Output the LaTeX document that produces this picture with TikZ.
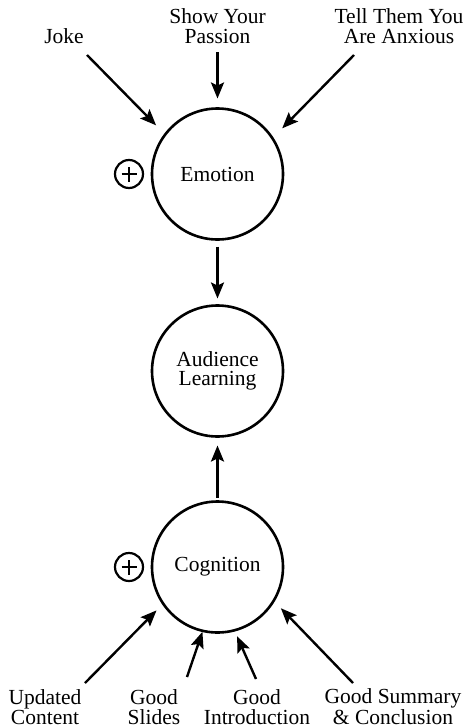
\documentclass[tikz,border=0pt]{standalone}
\usepackage{fontspec}
\setmainfont{Liberation Serif}
\usetikzlibrary{arrows.meta}
\newcommand\labelfont{\fontsize{21.5}{19.5}\selectfont}
\begin{document}
\begin{tikzpicture}[x=1pt,y=-1pt,
  factor/.style={draw,circle,line width=2.6pt,minimum size=131pt,inner sep=0pt,
    outer sep=0pt,align=center,font=\labelfont},
  lbl/.style={align=center,inner sep=0pt,font=\labelfont,anchor=base},
  conn/.style={line width=2.4pt,-{Stealth[length=16pt,width=13pt,inset=3pt]}},
  plusmark/.style={draw,circle,line width=2.2pt,minimum size=28pt,inner sep=0pt,
    outer sep=0pt,path picture={
      \draw[line width=2.2pt] ([xshift=-7.5pt]path picture bounding box.center)
        -- ([xshift=7.5pt]path picture bounding box.center);
      \draw[line width=2.2pt] ([yshift=-7.5pt]path picture bounding box.center)
        -- ([yshift=7.5pt]path picture bounding box.center);}}
]
\useasboundingbox (0,0) rectangle (470,728);

% the three factors
\node[factor] (emotion)  at (217.5,174) {Emotion};
\node[factor] (audience) at (217.5,371) {Audience\\Learning};
\node[factor] (cognition) at (217.5,567) {Cognition};

% positive signs
\node[plusmark] (eplus) at (129,174) {};
\node[plusmark] (cplus) at (129,567) {};

% emotional drivers (base = baseline of the last line)
\node[lbl] (joke)    at (64,43)    {Joke};
\node[lbl] (passion) at (217.5,43) {Show Your\\Passion};
\node[lbl] (anxious) at (399,43)   {Tell Them You\\Are Anxious};

% cognitive drivers
\node[lbl] (updated) at (45,724)  {Updated\\Content};
\node[lbl] (slides)  at (154,724) {Good\\Slides};
\node[lbl] (intro)   at (257,724) {Good\\Introduction};
\node[lbl] (summary) at (393,724) {Good Summary\\\& Conclusion};

% arrow tails
\coordinate (tjoke)    at (87,55);
\coordinate (tpassion) at (217.5,52);
\coordinate (tanxious) at (354,55);
\coordinate (tupdated) at (85,683);
\coordinate (tslides)  at (187,677);
\coordinate (tintro)   at (256,679);
\coordinate (tsummary) at (353,683);

\draw[conn,shorten >=13pt] (tjoke) -- (emotion.143);
\draw[conn,shorten >=10pt] (tpassion) -- (emotion.north);
\draw[conn,shorten >=14pt] (tanxious) -- (emotion.33.4);

\draw[conn,shorten <=7pt,shorten >=7pt] (emotion.south) -- (audience.north);
\draw[conn,shorten <=4pt,shorten >=9pt] (cognition.north) -- (audience.south);

\draw[conn,shorten >=9.5pt] (tupdated) -- (cognition.214.7);
\draw[conn,shorten >=1pt]   (tslides)  -- (cognition.257.4);
\draw[conn,shorten >=6.5pt] (tintro)   -- (cognition.285.9);
\draw[conn,shorten >=10.4pt] (tsummary) -- (cognition.329.2);
\end{tikzpicture}
\end{document}
